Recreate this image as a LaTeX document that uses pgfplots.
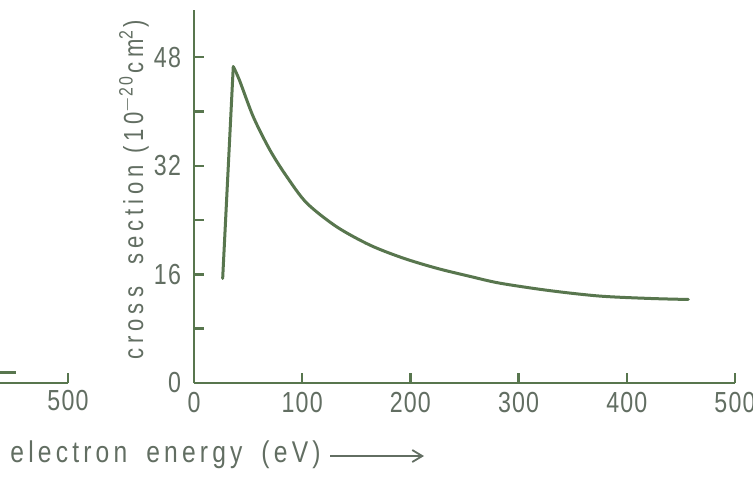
\documentclass[border=0pt]{standalone}
\usepackage{pgfplots}
\pgfplotsset{compat=1.18}
\usepackage{fontspec}
\setmainfont{Liberation Sans}[FakeStretch=0.82, LetterSpace=14]
\newfontfamily\tickfont{Liberation Sans}[FakeStretch=0.8, LetterSpace=4]
\newfontfamily\labfont{Liberation Sans}[FakeStretch=0.8, LetterSpace=18]
\usetikzlibrary{arrows.meta}
\definecolor{ink}{RGB}{88,118,78}
\definecolor{txt}{RGB}{98,110,98}
\begin{document}
\begin{tikzpicture}
\path[use as bounding box, fill=white] (0,0) rectangle (376.5pt,-238pt);
\pgfplotsset{
  myax/.style={
    scale only axis, width=270.5pt, height=186.5pt,
    xmin=0, xmax=500, ymin=0, ymax=54.93,
    axis line style={ink, line width=1.2pt},
    every tick/.style={ink, line width=1.2pt},
    major tick length=5pt, minor tick length=5pt,
    tick align=inside,
    tick label style={font=\tickfont\fontsize{14.5}{15}\selectfont, text=txt},
    /pgf/number format/assume math mode=true,
    clip=false,
  }
}
% left panel fragment
\begin{axis}[myax, at={(-236.5pt,-191.5pt)}, anchor=south west,
  axis x line*=bottom, hide y axis, xtick={500}]
\addplot[ink, line width=1.4pt] coordinates {(380,1.6) (452,1.6)};
\end{axis}
% main panel
\begin{axis}[myax, at={(97pt,-191.5pt)}, anchor=south west,
  axis x line*=bottom, axis y line*=left,
  xtick={0,100,200,300,400,500},
  ytick={0,16,32,48}, minor ytick={8,24,40},
  xticklabel style={yshift=-1pt},
  yticklabel style={xshift=-3pt}]
\addplot[ink, line width=1.5pt, line cap=round] coordinates {(26.5,15.4) (36.3,46.6)};
\addplot[ink, line width=1.5pt, smooth, tension=0.5, line cap=round] coordinates {
(36.3,46.6) (42,44.6) (54.8,39.2) (70.2,34.3) (85.7,30.4) (104.2,26.5)
(131.9,23.0) (162.7,20.3) (193.2,18.4) (224.3,16.9) (255.1,15.7)
(282.8,14.7) (329,13.6) (375.2,12.8) (421.4,12.45) (456.8,12.3)};
\end{axis}
\node[rotate=90, text=txt, font=\labfont\fontsize{13.8}{15}\selectfont] at (67pt,-95pt)
  {cross\ \ section (10$^{\mathrm{-20}}$cm$^{\mathrm{2}}$)};
\node[anchor=west, text=txt, font=\fontsize{15}{15}\selectfont, inner sep=0pt] at (5pt,-227.5pt)
  {electron\hspace{9.5pt}energy\hspace{9.5pt}(eV)};
\draw[txt, line width=0.9pt, -{Straight Barb[length=5pt, width=6pt]}] (165pt,-228pt) -- (212pt,-228pt);
\end{tikzpicture}
\end{document}
